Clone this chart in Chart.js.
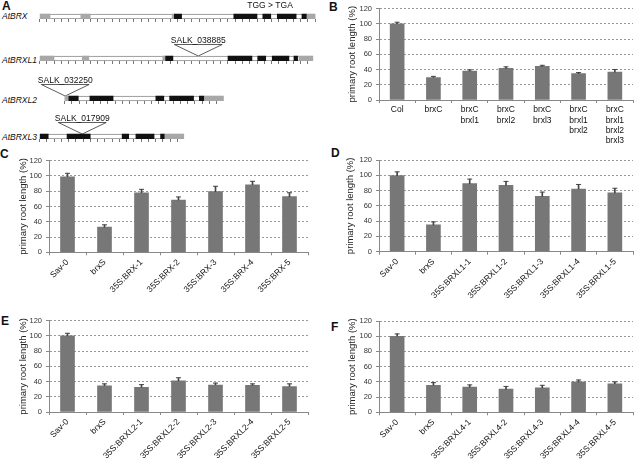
<!DOCTYPE html>
<html>
<head>
<meta charset="utf-8">
<script src="https://cdn.jsdelivr.net/npm/chart.js@4.4.0/dist/chart.umd.min.js"></script>
<style>
  html, body { margin: 0; padding: 0; background: #fff; }
  body { width: 638px; height: 461px; position: relative; overflow: hidden; font-family: "Liberation Sans", Arial, sans-serif; }
  canvas { position: absolute; }
  .letter { position: absolute; font-weight: bold; font-size: 12px; line-height: 12px; color: #111; }
  .gene { position: absolute; font-style: italic; font-size: 8.5px; line-height: 8px; color: #111; }
</style>
</head>
<body>
<div class="letter" style="left:2px;top:0px">A</div>
<div class="letter" style="left:329px;top:1px">B</div>
<div class="letter" style="left:0px;top:148px">C</div>
<div class="letter" style="left:331px;top:147px">D</div>
<div class="letter" style="left:1px;top:315px">E</div>
<div class="letter" style="left:331px;top:321px">F</div>

<div class="gene" style="left:2px;top:12px">AtBRX</div>
<div class="gene" style="left:2px;top:56px">AtBRXL1</div>
<div class="gene" style="left:2px;top:96px">AtBRXL2</div>
<div class="gene" style="left:2px;top:133px">AtBRXL3</div>

<canvas id="geneBRX" width="320" height="40" style="left:0px"></canvas>
<canvas id="geneBRXL1" width="320" height="40" style="left:0px"></canvas>
<canvas id="geneBRXL2" width="320" height="40" style="left:0px"></canvas>
<canvas id="geneBRXL3" width="320" height="40" style="left:0px"></canvas>

<canvas id="chartB" width="318" height="160" style="left:320px;top:0px"></canvas>
<canvas id="chartC" width="320" height="160" style="left:0px;top:150px"></canvas>
<canvas id="chartD" width="318" height="160" style="left:320px;top:150px"></canvas>
<canvas id="chartE" width="320" height="151" style="left:0px;top:310px"></canvas>
<canvas id="chartF" width="318" height="151" style="left:320px;top:310px"></canvas>

<script>
// ---- gene models (units of ~100 bp from the start of each gene) ----
const brxExons = [[18.6, 19.6], [26.8, 30.0], [30.8, 31.9], [32.8, 35.4], [36.2, 36.8]];
const brxUtrs = [[0, 1.45], [5.7, 7.0], [18.3, 18.6], [36.8, 38.0]];
const brxLength = 38.0;
const brxMutation = 31.8;

const brxl1Exons = [[17.4, 18.4], [26.0, 29.3], [30.1, 31.2], [32.1, 34.4], [35.1, 35.6]];
const brxl1Utrs = [[0, 2.0], [5.9, 6.8], [17.0, 17.4], [35.8, 37.7]];
const brxl1Length = 37.7;
const brxl1Insertion = 21.9;

const brxl2Exons = [[0.6, 1.9], [3.5, 6.7], [12.6, 13.7], [14.5, 17.8], [18.6, 19.2]];
const brxl2Utrs = [[0, 0.6], [19.2, 21.9]];
const brxl2Length = 21.9;
const brxl2Insertion = 0.1;

const brxl3Exons = [[0, 1.2], [3.8, 7.0], [11.4, 12.3], [13.3, 15.8], [16.7, 17.2]];
const brxl3Utrs = [[17.2, 19.9]];
const brxl3Length = 19.9;
const brxl3Insertion = 5.9;

// ---- root length panels ----
const bLabels = [['Col'], ['brxC'], ['brxC', 'brxl1'], ['brxC', 'brxl2'], ['brxC', 'brxl3'],
                 ['brxC', 'brxl1', 'brxl2'], ['brxC', 'brxl1', 'brxl2', 'brxl3']];
const bValues = [100, 29.5, 38, 41.5, 44, 34.5, 36.5];
const bErrors = [2, 1.5, 1.5, 2, 1.5, 1.5, 3.5];

const cLabels = ['Sav-0', 'brxS', '35S:BRX-1', '35S:BRX-2', '35S:BRX-3', '35S:BRX-4', '35S:BRX-5'];
const cValues = [99, 33, 78, 68.5, 79.5, 88.5, 73];
const cErrors = [4.5, 3, 4.5, 4, 7, 4.5, 5];

const dLabels = ['Sav-0', 'brxS', '35S:BRXL1-1', '35S:BRXL1-2', '35S:BRXL1-3', '35S:BRXL1-4', '35S:BRXL1-5'];
const dValues = [99.5, 35, 89, 87, 72.5, 82, 77];
const dErrors = [5, 4, 6, 5, 5.5, 6, 6];

const eLabels = ['Sav-0', 'brxS', '35S:BRXL2-1', '35S:BRXL2-2', '35S:BRXL2-3', '35S:BRXL2-4', '35S:BRXL2-5'];
const eValues = [100, 34.5, 32.5, 41, 35.5, 35, 33.5];
const eErrors = [3.5, 2.5, 3.5, 4, 2.5, 2, 3.5];

const fLabels = ['Sav-0', 'brxS', '35S:BRXL4-1', '35S:BRXL4-2', '35S:BRXL4-3', '35S:BRXL4-4', '35S:BRXL4-5'];
const fValues = [100, 35.5, 33, 30.5, 32, 40, 37.5];
const fErrors = [3, 3.5, 3, 3.5, 3.5, 2.5, 2.5];

const yTicks = [0, 20, 40, 60, 80, 100, 120];

Chart.defaults.font.family = '"Liberation Sans", Arial, Helvetica, sans-serif';
Chart.defaults.color = '#222';
Chart.defaults.animation = false;
Chart.defaults.responsive = false;
Chart.defaults.devicePixelRatio = 1;
Chart.defaults.plugins.legend.display = false;
Chart.defaults.plugins.tooltip.enabled = false;

// draws text at data coordinates
const dataText = {
    id: 'dataText',
    afterDatasetsDraw(chart, args, opts) {
        const ctx = chart.ctx;
        (opts.items || []).forEach(item => {
            ctx.save();
            ctx.font = '8.5px "Liberation Sans", Arial, sans-serif';
            ctx.fillStyle = '#111';
            ctx.textAlign = 'center';
            ctx.textBaseline = 'middle';
            ctx.fillText(item.text, chart.scales.x.getPixelForValue(item.x), chart.scales.y.getPixelForValue(item.y));
            ctx.restore();
        });
    }
};

const UNIT_PX = 7.25;
const GENE_LEFT = 39.5;
const GENE_WIDTH = 276.5;
const BOX_H = 34;

function geneChart(id, boxBottom, exons, utrs, len, shift, insertion, texts) {
    const canvas = document.getElementById(id);
    canvas.style.top = (boxBottom - BOX_H) + 'px';
    const xmin = -shift;
    const xmax = xmin + GENE_WIDTH / UNIT_PX;
    const seg = s => ({ x: s, y: 2.5 });
    const common = { indexAxis: 'y', barThickness: 5, grouped: false };

    const datasets = [
        Object.assign({ data: exons.map(seg), backgroundColor: '#111', order: 0 }, common),
        Object.assign({ data: utrs.map(seg), backgroundColor: '#a8a8a8', order: 1 }, common),
        Object.assign({ data: [seg([0, len])], backgroundColor: '#fff', borderColor: '#888',
                        borderWidth: 1, borderSkipped: false, order: 2 }, common)
    ];
    if (insertion !== null) {
        datasets.push({
            type: 'line',
            data: [
                { x: insertion - 3.3, y: 16.5 },
                { x: insertion, y: 5 },
                { x: insertion + 3.3, y: 16.5 },
                { x: insertion - 3.3, y: 16.5 }
            ],
            borderColor: '#333', borderWidth: 0.8, pointRadius: 0, fill: false, tension: 0, order: 3
        });
    }

    return new Chart(canvas, {
        type: 'bar',
        data: { datasets: datasets },
        options: {
            indexAxis: 'y',
            layout: { padding: { left: GENE_LEFT, right: 320 - GENE_LEFT - GENE_WIDTH, top: 0, bottom: 0 } },
            scales: {
                x: {
                    type: 'linear', min: xmin, max: xmax, offset: false, position: 'bottom',
                    ticks: { display: false, stepSize: 1, autoSkip: false, includeBounds: false, maxTicksLimit: 200 },
                    grid: {
                        offset: false, drawOnChartArea: false, drawTicks: true, tickLength: 3, tickWidth: 1,
                        tickColor: c => (c.tick && c.tick.value >= -0.001 && c.tick.value <= len + 0.001) ? '#777' : 'rgba(0,0,0,0)'
                    },
                    border: { display: false },
                    afterFit: s => { s.height = 6; }
                },
                y: { type: 'linear', min: 0, max: BOX_H, offset: false, display: false, grid: { offset: false } }
            },
            plugins: { dataText: { items: texts } }
        },
        plugins: [dataText]
    });
}

geneChart('geneBRX', 19, brxExons, brxUtrs, brxLength, 0, null,
    [{ text: 'TGG > TGA', x: brxMutation, y: 13.5 }]);
geneChart('geneBRXL1', 61, brxl1Exons, brxl1Utrs, brxl1Length, 0, brxl1Insertion,
    [{ text: 'SALK_038885', x: brxl1Insertion, y: 20.5 }]);
geneChart('geneBRXL2', 101, brxl2Exons, brxl2Utrs, brxl2Length, 25 / UNIT_PX, brxl2Insertion,
    [{ text: 'SALK_032250', x: brxl2Insertion, y: 20.5 }]);
geneChart('geneBRXL3', 139, brxl3Exons, brxl3Utrs, brxl3Length, 0, brxl3Insertion,
    [{ text: 'SALK_017909', x: brxl3Insertion, y: 20.5 }]);

// bar chart with one-sided error bars
function rootChart(id, labels, values, errors, lay) {
    const tops = values.map((v, i) => v + errors[i]);
    return new Chart(document.getElementById(id), {
        type: 'bar',
        data: {
            labels: labels,
            datasets: [
                { type: 'line', data: tops, showLine: false, pointStyle: 'line', pointRadius: 2.5,
                  borderColor: '#444', borderWidth: 1, order: 0 },
                { data: values.map((v, i) => [v, tops[i]]), backgroundColor: '#444', barThickness: 1,
                  grouped: false, order: 1 },
                { data: values, backgroundColor: '#777777', barThickness: 14, grouped: false, order: 2 }
            ]
        },
        options: {
            layout: { padding: { top: lay.top, right: lay.right, left: 0, bottom: 0 } },
            scales: {
                x: {
                    grid: { offset: true, drawOnChartArea: false, tickLength: 3, tickColor: '#888' },
                    border: { color: '#888' },
                    ticks: { font: { size: 8.5 }, color: '#111', padding: 2, autoSkip: false,
                             maxRotation: lay.rot, minRotation: lay.rot },
                    afterFit: s => { s.height = lay.xh; }
                },
                y: {
                    min: 0, max: 120,
                    afterBuildTicks: s => { s.ticks = yTicks.map(v => ({ value: v })); },
                    ticks: { font: { size: 7.5 }, color: '#333', padding: 4 },
                    grid: { color: '#999', tickColor: '#888', tickLength: 3 },
                    border: { color: '#888', dash: [2, 2] },
                    title: { display: true, text: 'primary root length (%)', font: { size: 9.5 }, color: '#222',
                             padding: { top: lay.title, bottom: 0 } },
                    afterFit: s => { s.width = lay.yw; }
                }
            }
        }
    });
}

rootChart('chartB', bLabels, bValues, bErrors, { top: 5, right: 3, xh: 60, yw: 59, rot: 0, title: 26.6 });
rootChart('chartC', cLabels, cValues, cErrors, { top: 10.7, right: 12, xh: 57.7, yw: 49, rot: 45, title: 17.6 });
rootChart('chartD', dLabels, dValues, dErrors, { top: 10, right: 3, xh: 58.3, yw: 59, rot: 45, title: 24.6 });
rootChart('chartE', eLabels, eValues, eErrors, { top: 10.7, right: 12, xh: 49, yw: 49, rot: 45, title: 17.6 });
rootChart('chartF', fLabels, fValues, fErrors, { top: 11, right: 3, xh: 48.7, yw: 59, rot: 45, title: 26.6 });
</script>
</body>
</html>
